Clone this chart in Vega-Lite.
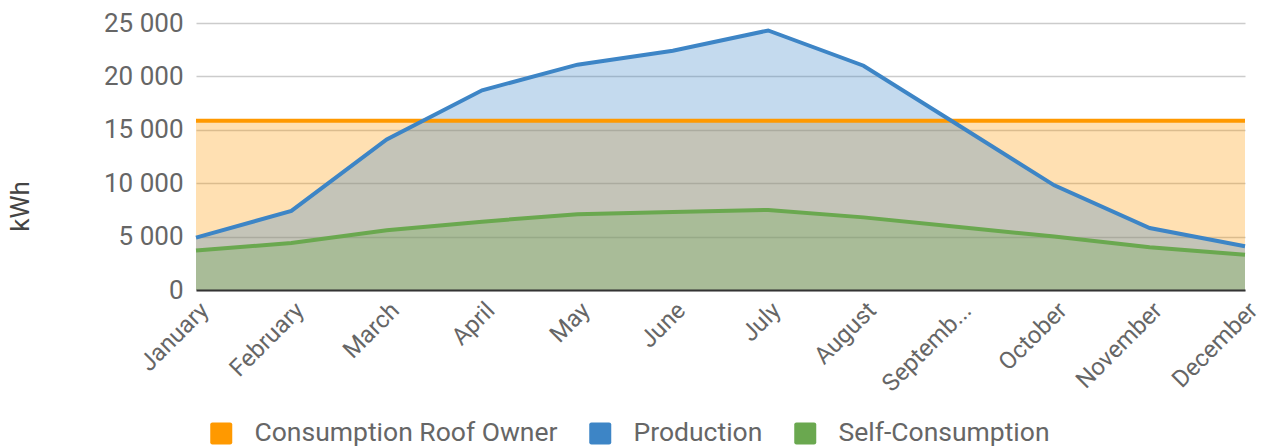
{
  "$schema": "https://vega.github.io/schema/vega-lite/v6.json",
  "width": 1049,
  "height": 267,
  "autosize": {"type": "none"},
  "padding": {"left": 196, "top": 23, "right": 23, "bottom": 157},
  "background": "white",
  "config": {
    "font": "Roboto",
    "view": {"stroke": null}
  },
  "data": {
    "values": [
      {"month": "January", "series": "Consumption Roof Owner", "kwh": 15850},
      {"month": "February", "series": "Consumption Roof Owner", "kwh": 15850},
      {"month": "March", "series": "Consumption Roof Owner", "kwh": 15850},
      {"month": "April", "series": "Consumption Roof Owner", "kwh": 15850},
      {"month": "May", "series": "Consumption Roof Owner", "kwh": 15850},
      {"month": "June", "series": "Consumption Roof Owner", "kwh": 15850},
      {"month": "July", "series": "Consumption Roof Owner", "kwh": 15850},
      {"month": "August", "series": "Consumption Roof Owner", "kwh": 15850},
      {"month": "September", "series": "Consumption Roof Owner", "kwh": 15850},
      {"month": "October", "series": "Consumption Roof Owner", "kwh": 15850},
      {"month": "November", "series": "Consumption Roof Owner", "kwh": 15850},
      {"month": "December", "series": "Consumption Roof Owner", "kwh": 15850},
      {"month": "January", "series": "Production", "kwh": 4900},
      {"month": "February", "series": "Production", "kwh": 7400},
      {"month": "March", "series": "Production", "kwh": 14100},
      {"month": "April", "series": "Production", "kwh": 18700},
      {"month": "May", "series": "Production", "kwh": 21100},
      {"month": "June", "series": "Production", "kwh": 22400},
      {"month": "July", "series": "Production", "kwh": 24300},
      {"month": "August", "series": "Production", "kwh": 21000},
      {"month": "September", "series": "Production", "kwh": 15400},
      {"month": "October", "series": "Production", "kwh": 9800},
      {"month": "November", "series": "Production", "kwh": 5800},
      {"month": "December", "series": "Production", "kwh": 4100},
      {"month": "January", "series": "Self-Consumption", "kwh": 3700},
      {"month": "February", "series": "Self-Consumption", "kwh": 4400},
      {"month": "March", "series": "Self-Consumption", "kwh": 5600},
      {"month": "April", "series": "Self-Consumption", "kwh": 6400},
      {"month": "May", "series": "Self-Consumption", "kwh": 7100},
      {"month": "June", "series": "Self-Consumption", "kwh": 7300},
      {"month": "July", "series": "Self-Consumption", "kwh": 7500},
      {"month": "August", "series": "Self-Consumption", "kwh": 6800},
      {"month": "September", "series": "Self-Consumption", "kwh": 5900},
      {"month": "October", "series": "Self-Consumption", "kwh": 5000},
      {"month": "November", "series": "Self-Consumption", "kwh": 4000},
      {"month": "December", "series": "Self-Consumption", "kwh": 3300}
    ]
  },
  "encoding": {
    "x": {
      "field": "month",
      "type": "ordinal",
      "sort": null,
      "scale": {"type": "point", "padding": 0},
      "axis": {
        "title": null,
        "labelAngle": -45,
        "labelAlign": "right",
        "labelBaseline": "top",
        "labelFontSize": 24,
        "labelColor": "#666666",
        "labelPadding": 8,
        "labelExpr": "datum.label == 'September' ? 'Septemb...' : datum.label",
        "ticks": false,
        "grid": false,
        "domainColor": "#333333",
        "domainWidth": 2,
        "zindex": 1
      }
    },
    "y": {
      "field": "kwh",
      "type": "quantitative",
      "stack": null,
      "scale": {"domain": [0, 25000], "nice": false},
      "axis": {
        "title": "kWh",
        "titleFontSize": 26,
        "titleFontWeight": "normal",
        "titleColor": "#444444",
        "titlePadding": 70,
        "titleY": 183,
        "values": [0, 5000, 10000, 15000, 20000, 25000],
        "labelExpr": "replace(format(datum.value, ','), ',', ' ')",
        "labelFontSize": 26,
        "labelColor": "#666666",
        "labelPadding": 13,
        "ticks": false,
        "domain": false,
        "gridColor": "#cccccc",
        "gridWidth": 1.5
      }
    },
    "color": {
      "field": "series",
      "type": "nominal",
      "sort": null,
      "scale": {
        "domain": ["Consumption Roof Owner", "Production", "Self-Consumption"],
        "range": ["#FF9900", "#3D85C6", "#6AA84F"]
      },
      "legend": {
        "title": null,
        "orient": "none",
        "legendX": 12,
        "legendY": 397,
        "direction": "horizontal",
        "symbolType": "M-0.8,-1L0.8,-1Q1,-1,1,-0.8L1,0.8Q1,1,0.8,1L-0.8,1Q-1,1,-1,0.8L-1,-0.8Q-1,-1,-0.8,-1Z",
        "symbolSize": 484,
        "symbolOpacity": 1,
        "symbolStrokeWidth": 0,
        "labelFontSize": 26.5,
        "labelColor": "#666666",
        "labelOffset": 20,
        "columnPadding": 29,
        "labelLimit": 400
      }
    }
  },
  "layer": [
    {"mark": {"type": "area", "opacity": 0.3}},
    {"mark": {"type": "line", "strokeWidth": 4}}
  ]
}
